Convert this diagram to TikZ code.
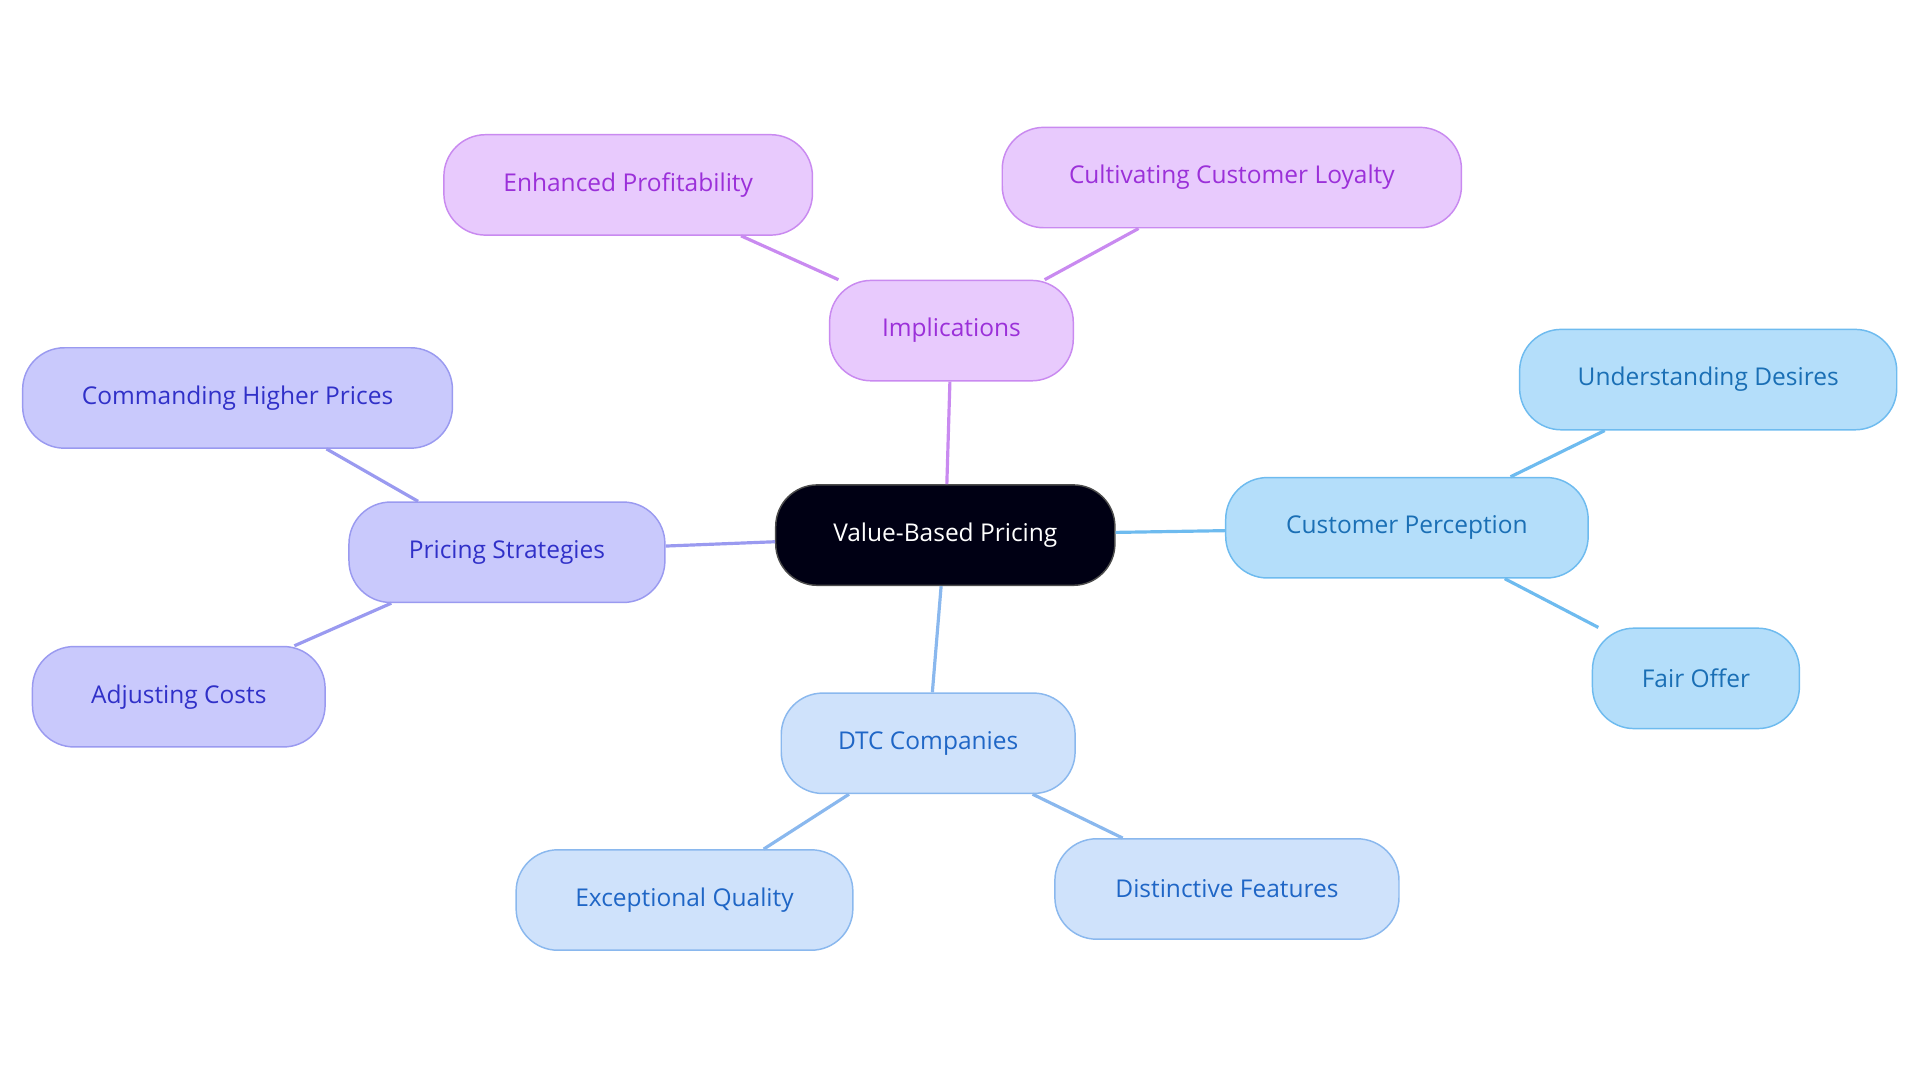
\documentclass[tikz,border=0pt]{standalone}
\usepackage{fontspec}
\setmainfont{Open Sans}
\begin{document}
\definecolor{pf}{HTML}{E8CAFD}\definecolor{ps}{HTML}{C98AF0}\definecolor{pt}{HTML}{9B30D9}
\definecolor{cf}{HTML}{B4DEFA}\definecolor{cs}{HTML}{6EBBEF}\definecolor{ct}{HTML}{1A6FB5}
\definecolor{df}{HTML}{CFE2FB}\definecolor{ds}{HTML}{8AB8EE}\definecolor{dt}{HTML}{1F66C6}
\definecolor{sf}{HTML}{C9C9FC}\definecolor{ss}{HTML}{9A9AF0}\definecolor{st}{HTML}{3030C8}
\begin{tikzpicture}[x=1pt,y=-1pt,
 box/.style={rounded corners=34pt,minimum height=82pt,line width=1.2pt,font=\fontsize{20}{24}\selectfont,inner sep=0pt},
 P/.style={box,fill=pf,draw=ps,text=pt},
 C/.style={box,fill=cf,draw=cs,text=ct},
 D/.style={box,fill=df,draw=ds,text=dt},
 S/.style={box,fill=sf,draw=ss,text=st},
 ln/.style={line width=2.6pt}]
\useasboundingbox (0,0) rectangle (1568,884);
\node[box,fill=black!92!blue,draw=black!70,text=white,minimum width=277pt] (v) at (772,437) {Value-Based Pricing};
\node[P,minimum width=199pt] (i) at (777,270) {Implications};
\node[P,minimum width=301pt] (e) at (513,151) {Enhanced Profitability};
\node[P,minimum width=375pt] (l) at (1006,145) {Cultivating Customer Loyalty};
\node[C,minimum width=296pt] (c) at (1149,431) {Customer Perception};
\node[C,minimum width=308pt] (u) at (1395,310) {Understanding Desires};
\node[C,minimum width=169pt] (f) at (1385,554) {Fair Offer};
\node[D,minimum width=240pt] (d) at (758,607) {DTC Companies};
\node[D,minimum width=275pt] (q) at (559,735) {Exceptional Quality};
\node[D,minimum width=281pt] (df) at (1002,726) {Distinctive Features};
\node[S,minimum width=258pt] (s) at (414,451) {Pricing Strategies};
\node[S,minimum width=351pt] (h) at (194,325) {Commanding Higher Prices};
\node[S,minimum width=239pt] (a) at (146,569) {Adjusting Costs};
\begin{scope}[on background layer/.try]
\end{scope}
\draw[ln,ps] (v) -- (i); \draw[ln,ps] (i) -- (e); \draw[ln,ps] (i) -- (l);
\draw[ln,cs] (v) -- (c); \draw[ln,cs] (c) -- (u); \draw[ln,cs] (c) -- (f);
\draw[ln,ds] (v) -- (d); \draw[ln,ds] (d) -- (q); \draw[ln,ds] (d) -- (df);
\draw[ln,ss] (v) -- (s); \draw[ln,ss] (s) -- (h); \draw[ln,ss] (s) -- (a);
\end{tikzpicture}
\end{document}
